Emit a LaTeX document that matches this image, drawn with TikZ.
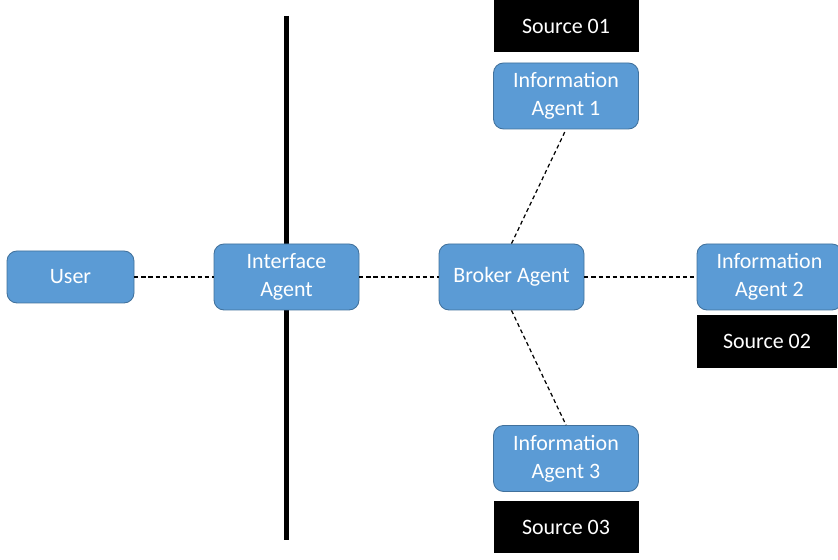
\documentclass[tikz,border=0pt]{standalone}
\usepackage{fontspec}
\setmainfont{Carlito}
\usepackage{xcolor}
\usepackage{tikz}
\usetikzlibrary{positioning}

\definecolor{agentfill}{HTML}{5B9BD5}
\definecolor{agentline}{HTML}{41719C}

\begin{document}
\begin{tikzpicture}[
    agent/.style  = {draw=agentline,line width=0.5pt,fill=agentfill,rounded corners=2mm,minimum width=29mm,minimum height=13.2mm,align=center,text=white,font=\fontsize{12.5}{16}\selectfont},
    user/.style   = {agent,minimum width=25.4mm,minimum height=10.4mm},
    source/.style = {fill=black,minimum width=29mm,minimum height=10.4mm,text=white,font=\fontsize{12.5}{16}\selectfont},
    link/.style   = {dash pattern=on 2.3pt off 1.7pt,line width=0.7pt}
  ]
  \useasboundingbox (0,0) rectangle (16.76,11.2);

  % divider behind the interface agent
  \coordinate (T) at (5.73,10.88);
  \coordinate (D) at (5.73,0.40);
  \draw[line width=2.3pt] (T) -- (D);

  \node[user]  (U)  at (1.41,5.66)  {User};
  \node[agent] (IF) at (5.73,5.66)  {Interface\\Agent};
  \node[agent] (BR) at (10.23,5.66) {Broker Agent};

  \node[source] (S1) at (11.32,10.68) {Source 01};
  \node[agent]  (A1) at (11.32,9.28)  {Information\\Agent 1};
  \node[agent]  (A2) at (15.39,5.66)  {Information\\Agent 2};
  \node[source,minimum width=28mm,minimum height=10.6mm] (S2) at (15.34,4.37) {Source 02};
  \node[agent]  (A3) at (11.32,2.03)  {Information\\Agent 3};
  \node[source] (S3) at (11.32,0.65)  {Source 03};

  \draw[link] (U)  -- (IF);
  \draw[link] (IF) -- (BR);
  \draw[link] (BR) -- (A2);
  \draw[link] (BR.north) -- (A1.south);
  \draw[link] (BR.south) -- (A3.north);

\end{tikzpicture}
\end{document}
